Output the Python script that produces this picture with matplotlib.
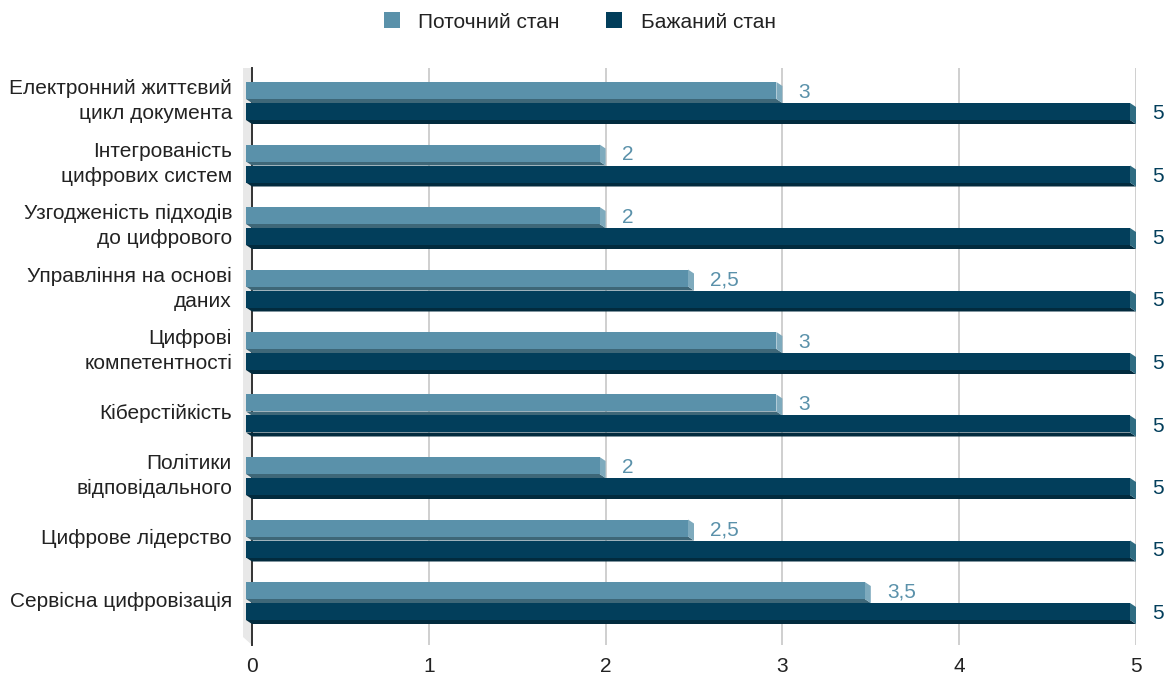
import matplotlib
matplotlib.use('Agg')
import matplotlib.pyplot as plt
import matplotlib.transforms as mtransforms
from matplotlib.patches import Polygon, Patch
import numpy as np

plt.rcParams['font.family'] = ['Liberation Sans', 'DejaVu Sans']

# Дані
categories = [
    'Електронний життєвий\nцикл документа',
    'Інтегрованість\nцифрових систем',
    'Узгодженість підходів\nдо цифрового',
    'Управління на основі\nданих',
    'Цифрові\nкомпетентності',
    'Кіберстійкість',
    'Політики\nвідповідального',
    'Цифрове лідерство',
    'Сервісна цифровізація',
]
current_state = [3, 2, 2, 2.5, 3, 3, 2, 2.5, 3.5]
desired_state = [5, 5, 5, 5, 5, 5, 5, 5, 5]
series_names = ['Поточний стан', 'Бажаний стан']
x_ticks = [0, 1, 2, 3, 4, 5]

# Кольори: лицьова грань, нижня грань, бічна грань
light = ('#5a91aa', '#3e6778', '#7eaabd')
dark = ('#023e5b', '#022b3e', '#2f6c82')
text_color = '#222222'
fs = 15

W, H = 1165, 677
fig = plt.figure(figsize=(W / 100, H / 100), dpi=100)
x0, x1, y_top, y_bot = 252, 1136, 68, 645
ax = fig.add_axes([x0 / W, 1 - y_bot / H, (x1 - x0) / W, (y_bot - y_top) / H])

n = len(categories)
ypos = np.arange(n)
ax.set_xlim(0, 5)
ax.set_ylim(n - 1 + 0.704, -0.528)

bar_h = 0.272
offset = 0.168
dx, dy = 6, 4  # глибина 3D-ефекту в пікселях

front = mtransforms.offset_copy(ax.transData, fig=fig, x=-dx, y=0, units='dots')
ident = mtransforms.IdentityTransform()


def fmt(v):
    return f'{v:g}'.replace('.', ',')


def bar3d(yc_list, values, colors, z):
    face, bottom, side = colors
    bars = ax.barh(yc_list, values, height=bar_h, color=face, zorder=z + 1)
    for b in bars:
        b.set_transform(front)
        b.set_clip_on(False)
    for yc, v in zip(yc_list, values):
        tr = ax.transData.transform((v, yc - bar_h / 2))
        bl = ax.transData.transform((0, yc + bar_h / 2))
        br = ax.transData.transform((v, yc + bar_h / 2))
        f = lambda p: (p[0] - dx, p[1])
        k = lambda p: (p[0], p[1] - dy)
        # нижня грань
        ax.add_patch(Polygon([f(bl), f(br), k(br), k(bl)], closed=True,
                             facecolor=bottom, edgecolor='none',
                             transform=ident, zorder=z, clip_on=False))
        # бічна грань
        ax.add_patch(Polygon([f(tr), k(tr), k(br), f(br)], closed=True,
                             facecolor=side, edgecolor='none',
                             transform=ident, zorder=z, clip_on=False))
        ax.annotate(fmt(v), xy=(v, yc), xytext=(16, -2), textcoords='offset pixels',
                    ha='left', va='center', fontsize=fs, color=face,
                    annotation_clip=False)


bar3d(ypos - offset, current_state, light, 4)
bar3d(ypos + offset, desired_state, dark, 4)

# Бічна стінка зліва
bb = ax.bbox
wall = Polygon([(bb.x0 - 9, bb.y1), (bb.x0, bb.y1), (bb.x0, bb.y0), (bb.x0 - 9, bb.y0 + 8)],
               closed=True, facecolor='#e8e8e8', edgecolor='none',
               transform=ident, zorder=0.5, clip_on=False)
ax.add_patch(wall)

ax.grid(axis='x', color='#cccccc', linewidth=1.3)
ax.set_axisbelow(True)
for side_name in ['top', 'right', 'bottom']:
    ax.spines[side_name].set_visible(False)
ax.spines['left'].set_color('#333333')
ax.spines['left'].set_linewidth(1.4)
ax.spines['left'].set_zorder(2)

ax.set_xticks(x_ticks)
ax.set_xticklabels([str(t) for t in x_ticks])
ax.set_yticks(ypos)
ax.set_yticklabels(categories)
for lbl in ax.get_yticklabels():
    lbl.set_linespacing(1.4)
    lbl.set_verticalalignment('center')
ax.tick_params(axis='x', length=0, pad=8.6, labelsize=fs, labelcolor=text_color)
ax.tick_params(axis='y', length=0, pad=14.4, labelsize=fs, labelcolor=text_color)

handles = [Patch(facecolor=light[0], edgecolor='none'),
           Patch(facecolor=dark[0], edgecolor='none')]
fig.legend(handles, series_names, loc='center', bbox_to_anchor=(0.4975, 0.9675),
           ncol=2, frameon=False, fontsize=fs, handlelength=0.77, handleheight=0.77,
           handletextpad=0.9, columnspacing=2.2, labelcolor=text_color)

fig.savefig('out.png', dpi=100)
